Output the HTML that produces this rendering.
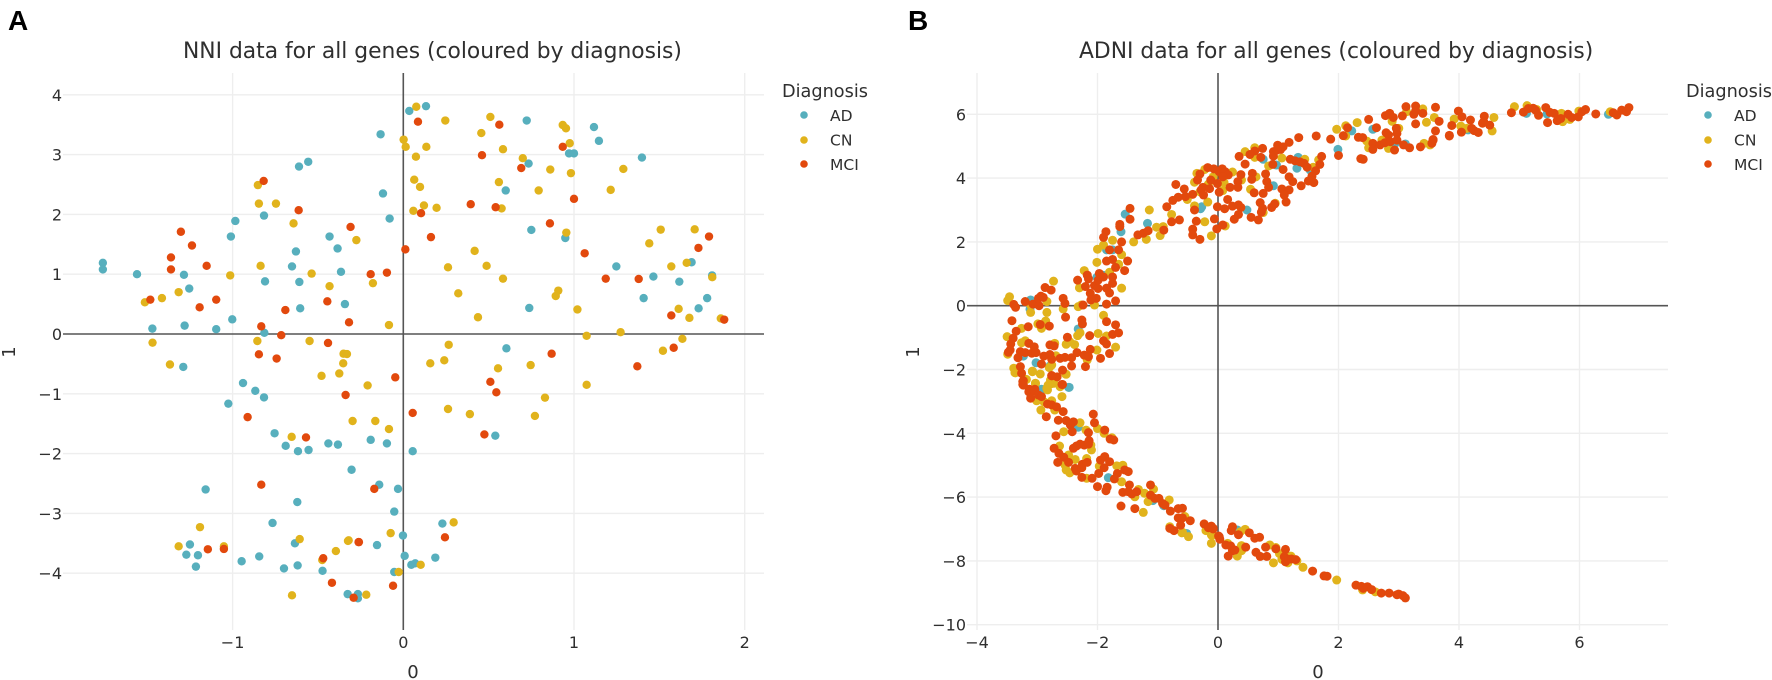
<!DOCTYPE html>
<html lang="en">
<head>
<meta charset="utf-8">
<title>NNI and ADNI data for all genes</title>
<style>
html,body{margin:0;padding:0;background:#fff;width:1772px;height:680px;overflow:hidden}
svg{display:block}
text{font-family:"DejaVu Sans","Liberation Sans",sans-serif;fill:#2f2f2f}
.letter{font-family:"Liberation Sans",sans-serif;font-weight:700;font-size:28px;fill:#000}
.title{font-size:21.8px}
.tick{font-size:16px}
.axis-title{font-size:18px}
.legend-title{font-size:17.7px}
.legend-label{font-size:15.5px}
</style>
</head>
<body>
<svg id="figure" xmlns="http://www.w3.org/2000/svg" width="1772" height="680" viewBox="0 0 1772 680">
  <text class="letter" x="8" y="30">A</text>
  <text class="letter" x="908" y="30">B</text>
  <g id="panel-a">
    <g id="a-grid"></g>
    <g id="a-marks"></g>
    <g id="a-ticks"></g>
    <text class="title" x="183" y="58">NNI data for all genes (coloured by diagnosis)</text>
    <text class="axis-title" x="413" y="678" text-anchor="middle">0</text>
    <text class="axis-title" transform="translate(15,352) rotate(-90)" text-anchor="middle">1</text>
    <g>
      <text class="legend-title" x="782" y="97">Diagnosis</text>
      <g><circle cx="804" cy="115" r="3.8" fill="#57afbd"/><text class="legend-label" x="830" y="121">AD</text></g>
      <g><circle cx="804" cy="140" r="3.8" fill="#e1b31c"/><text class="legend-label" x="830" y="145.500">CN</text></g>
      <g><circle cx="804" cy="164" r="3.8" fill="#e2490d"/><text class="legend-label" x="830" y="170">MCI</text></g>
    </g>
  </g>
  <g id="panel-b">
    <g id="b-grid"></g>
    <g id="b-marks"></g>
    <g id="b-ticks"></g>
    <text class="title" x="1079" y="58">ADNI data for all genes (coloured by diagnosis)</text>
    <text class="axis-title" x="1318" y="678" text-anchor="middle">0</text>
    <text class="axis-title" transform="translate(919,352) rotate(-90)" text-anchor="middle">1</text>
    <g>
      <text class="legend-title" x="1686" y="97">Diagnosis</text>
      <g><circle cx="1708" cy="115" r="3.8" fill="#57afbd"/><text class="legend-label" x="1734" y="121">AD</text></g>
      <g><circle cx="1708" cy="140" r="3.8" fill="#e1b31c"/><text class="legend-label" x="1734" y="145.500">CN</text></g>
      <g><circle cx="1708" cy="164" r="3.8" fill="#e2490d"/><text class="legend-label" x="1734" y="170">MCI</text></g>
    </g>
  </g>
</svg>
<script>
const nniXTicks = [-1, 0, 1, 2];
const nniYTicks = [4, 3, 2, 1, 0, -1, -2, -3, -4];
const adniXTicks = [-4, -2, 0, 2, 4, 6];
const adniYTicks = [6, 4, 2, 0, -2, -4, -6, -8, -10];

const nniAD = [[-1.76,1.19],[-1.76,1.08],[-1.56,1],[-1.285,.99],[-1.254,.76],[-.984,1.89],[-1.01,1.63],[-.816,1.98],[-.81,.88],[-.611,2.8],[-.557,2.88],[-.432,1.63],[-.385,1.43],[-.629,1.38],[-.652,1.13],[-.609,.87],[-.365,1.04],
[-1.47,.09],[-1.281,.14],[-1.096,.08],[-1.002,.245],[-.814,.02],[-.604,.43],[-.342,.5],[-1.289,-.55],[-.939,-.82],[-.867,-.95],[-.816,-1.06],[-1.025,-1.165],[-.754,-1.66],[-.689,-1.87],[-.617,-1.96],[-.555,-1.94],[-.439,-1.83],[-.383,-1.85],[-.303,-2.27],[-1.158,-2.6],[-.621,-2.81],[-.766,-3.16],
[.035,3.73],[.133,3.81],[-.133,3.34],[.723,3.57],[1.117,3.46],[1.146,3.23],[.971,3.02],[1,3.02],[1.398,2.95],[.734,2.85],[.6,2.4],[-.119,2.35],[-.08,1.93],[.75,1.74],[.949,1.605],[1.248,1.13],[1.465,.96],[1.617,.875],[1.689,1.2],[1.809,.98],[1.408,.6],[1.78,.6],
[.738,.435],[1.73,.43],[.604,-.24],[-.191,-1.77],[-.096,-1.83],[.055,-1.96],[.539,-1.7],[-.141,-2.52],[-.031,-2.59],[-.053,-2.97],[.229,-3.17],[-.002,-3.37],[-.154,-3.53],[.008,-3.71],[.047,-3.86],[.07,-3.835],[.1875,-3.74],[-.053,-3.98],
[-1.25,-3.52],[-1.271,-3.69],[-1.203,-3.7],[-1.215,-3.89],[-.947,-3.8],[-.844,-3.72],[-.699,-3.92],[-.619,-3.87],[-.635,-3.5],[-.473,-3.96],[-.326,-4.35],[-.266,-4.35],[-.266,-4.42]];

const nniCN = [[-.852,2.49],[-.846,2.18],[-.746,2.18],[-.643,1.85],[-.836,1.14],[-1.014,.98],[-.537,1.01],[-.432,.8],[-.275,1.57],[-1.316,.7],[-1.414,.6],[-1.514,.53],
[-1.469,-.145],[-1.367,-.51],[-.855,-.117],[-.549,-.117],[-.35,-.33],[-.33,-.335],[-.352,-.49],[-.375,-.66],[-.479,-.7],[-.654,-1.72],[-.297,-1.455],[-1.191,-3.23],
[.076,3.8],[.246,3.57],[.51,3.63],[.457,3.36],[.934,3.495],[.953,3.44],[.975,3.19],[.002,3.25],[.014,3.13],[.135,3.13],[.074,2.965],[.584,3.09],[.7,2.94],[.861,2.75],[.982,2.69],[1.289,2.76],[.064,2.58],[.098,2.46],[.56,2.54],[.793,2.4],[1.215,2.41],[.121,2.15],[.059,2.06],[.195,2.11],[.576,2.1],[.955,1.695],[1.508,1.745],[1.707,1.75],[1.441,1.516],[1.57,1.13],[1.66,1.19],[.418,1.39],[.262,1.115],[.488,1.14],[.584,.925],[1.81,.95],[-.178,.85],[.322,.68],[.908,.725],[.893,.635],
[-.084,.15],[.4375,.28],[1.02,.41],[1.613,.42],[1.676,.27],[1.074,-.03],[1.273,.03],[1.635,-.08],[1.521,-.28],[.266,-.18],[.24,-.44],[.158,-.49],[.555,-.574],[.746,-.52],[1.074,-.85],[-.209,-.86],[.83,-1.065],[.262,-1.254],[.39,-1.34],[.771,-1.37],[-.164,-1.455],[-.084,-1.59],[-.074,-3.33],[.295,-3.15],[.102,-3.86],[-.027,-3.98],[-.32,-3.45],[1.86,.26],
[-1.316,-3.55],[-1.051,-3.55],[-.652,-4.37],[-.217,-4.36],[-.395,-3.63],[-.475,-3.78],[-.324,-3.46],[-.607,-3.43]];

const nniMCI = [[-.818,2.56],[-.613,2.07],[-.309,1.79],[-1.303,1.71],[-1.238,1.48],[-1.361,1.28],[-1.361,1.08],[-1.152,1.14],
[-1.482,.574],[-1.193,.446],[-1.096,.574],[-.691,.4],[-.445,.546],[-.318,.195],[-.832,.128],[-.715,-.02],[-.441,-.15],[-.846,-.34],[-.742,-.41],[-.338,-1.02],[-.912,-1.39],[-.57,-1.73],[-.832,-2.52],
[.086,3.55],[.5625,3.5],[.934,3.13],[.461,2.99],[.691,2.775],[1,2.26],[.395,2.17],[.541,2.12],[.104,2.02],[.859,1.85],[.162,1.62],[.012,1.415],[1.0625,1.35],[1.729,1.44],[1.791,1.63],[-.191,1],[-.096,1.026],[1.186,.925],[1.379,.92],
[1.57,.31],[1.584,-.23],[1.371,-.54],[.869,-.33],[-.047,-.725],[.51,-.8],[.545,-.975],[.055,-1.32],[.475,-1.68],[-.17,-2.59],[.244,-3.4],[-.26,-3.48],[-.06,-4.21],[1.88,.24],
[-1.145,-3.6],[-1.051,-3.595],[-.469,-3.75],[-.418,-4.16],[-.291,-4.41],[-.262,-3.48]];

const adniAD = [[2.22,5.48],[2.57,5.53],[1.99,4.9],[3.11,5.07],[2.94,5.09],[1.33,4.65],[1.31,4.31],[.97,4.41],[.75,4.59],[1.53,4.25],[.92,3.76],[-.27,3.1],[-.29,3.04],[.48,3],[-1.54,2.87],[-1.17,2.58],[-1.61,2.32],
[-3.11,.18],[-3.12,-.11],[-2.32,-.73],[-3.23,-1.58],[-2.01,.89],[-3.02,-1.79],[-2.79,-1.89],[-2.48,-2.56],
[-2.93,-2.62],[-2.47,-2.56],[-2.32,-3.81],[-1.82,-5.39],[-1.08,-6.11],[-.9,-6.27],[-.52,-7.14],[.32,-7.03],
[5.12,6.03],[5.46,6.01],[4.15,5.51],[6.48,6],[-1.85,1.75],[-1.75,1.75],[-1.9,.95]];

const adniCN = [[1.97,5.53],[2.12,5.64],[2.31,5.74],[3.4,6.17],[3.13,6.08],[2.89,5.78],[3.46,5.75],[3.59,5.9],[3,5.56],[2.12,5.32],[2.47,5.16],[2.5,4.95],[2.72,5.19],[2.83,4.93],[3.42,5.09],[3.52,5.04],[.61,4.95],[.45,4.83],[.61,4.65],[1.06,4.63],[.84,4.38],[1.44,4.59],[1.67,4.57],[1.58,4.34],[-.22,4.27],[-.35,4.15],[.24,4.19],[-.39,3.87],[-.08,4.04],[.39,3.94],[.63,4.04],[.1,3.86],[.08,3.61],[-.16,3.81],[.54,3.65],[-.3,3.57],[-.51,3.33],[-.17,3.25],[-.39,3.13],[-1.14,3],[-.77,2.86],[.75,2.92],[.95,3.21],[-.22,2.63],[.12,2.5],[-.11,2.19],[-1.02,2.46],[-.91,2.48],[-.96,2.2],[-1.19,2.08],
[-3.46,.28],[-3.49,.16],[-3.11,.02],[-3.11,-.21],[-2.84,-.21],[-2.84,.13],[-2.73,.77],[-2.57,-.1],[-2.32,-.03],[-2.27,.02],[-2.05,.02],[-2.3,.56],[-2.22,1.1],[-2.01,1.36],[-2,1.77],[-2.86,-.48],[-2.99,-.57],[-2.93,-.71],[-3.26,-.71],[-3.5,-.97],[-3.49,-1.52],[-3.26,-1.16],[-3.2,-1.1],[-2.71,-1.18],[-2.29,-.85],[-2.33,-.94],[-1.99,-.87],[-2.52,-1.21],[-2.46,-1.13],[-2.38,-1.22],[-2.01,-1.39],[-2.17,-1.7],[-2.69,-1.57],[-3.39,-1.96],[-3.36,-2.1],[-3.08,-2.05],[-2.95,-2.14],[-2.8,-1.94],[-2.76,-1.86],[-2.52,-2.15],[-3.18,-2.31],[-3.03,-2.43],[-2.79,-2.46],[-2.72,-2.43],[-2.84,-2.59],[-2.62,-2.54],
[-3.37,-2.1],[-3.08,-2.07],[-2.78,-2.33],[-3.03,-2.44],[-2.76,-2.44],[-2.53,-2.14],[-2.82,-2.49],[-2.83,-2.64],[-2.59,-2.85],[-3.01,-2.98],[-2.89,-3.01],[-2.76,-2.98],[-2.94,-3.27],[-2.71,-3.27],[-2.29,-3.67],[-2.56,-3.95],[-2.19,-3.9],[-2,-3.85],[-1.89,-4],[-1.76,-4.14],[-2.63,-4.4],[-2.11,-4.37],[-2.1,-4.52],[-2.48,-4.68],[-2.37,-4.82],[-2.18,-4.79],[-2.54,-4.99],[-2.52,-5.15],[-2.46,-5.24],[-2.18,-5.41],[-1.97,-5.03],[-1.68,-5.02],[-1.58,-5],[-1.6,-5.52],[-1.07,-5.75],[-1.22,-5.88],[-1.32,-5.76],[-1.38,-5.99],[-1.16,-6.14],[-1.24,-6.48],[-.81,-6.09],[-.55,-6.61],[-.8,-6.93],[-.6,-7.12],[-.49,-7.24],[-.11,-7.19],
[-.11,-7.45],[-.2,-7.05],[-.09,-7.2],[-.58,-6.64],[-.59,-7.1],[.16,-7.45],[.32,-7.85],[.39,-7.52],[.39,-7.68],[.37,-7.09],[.45,-7.01],[.86,-7.5],[.92,-8.06],[.96,-7.58],[1.02,-7.77],[1.21,-7.85],[1.06,-7.95],[1.16,-8.06],[1.31,-8],[1.41,-8.2],[1.97,-8.6],[2.4,-8.91],[2.61,-8.97],
[3.92,5.85],[4.03,5.63],[4.13,5.56],[4.58,5.9],[4.55,5.48],[4.92,6.24],[5.13,6.27],[5.29,6.15],[5.7,6.03],[5.72,5.77],[5.84,5.84],[5.99,6.1],[6.51,6.08],
[-1.8,1.05],[-1.65,1.3],[-1.9,1.9],[-1.75,2.05],[-1.6,1.6],[-1.4,2],[-1.85,-.95],[-1.7,-1.3],[-1.9,-.3],[-1.6,.55]];

const adniMCI = [[3.12,6.24],[3.28,6.26],[3.61,6.22],[2.78,5.96],[2.85,6.03],[2.91,5.9],[3.06,5.95],[3.25,6],[3.28,6.11],[3.4,6.03],[3.67,5.78],[2.5,5.84],[2.63,5.58],[2.15,5.58],[2.96,5.56],[3.28,5.7],[3.61,5.48],[3.84,5.32],[2.79,5.42],[2.83,5.35],[2.97,5.4],[2.08,5.33],[2.33,5.28],[2.4,5.27],[1.63,5.32],[1.34,5.27],[1.87,5.22],[1.18,5.12],[2.57,5.09],[2.69,5.04],[2.77,5.11],[2.86,5.14],[2.97,5.19],[2.57,4.9],[2.93,4.88],[3.08,5.04],[3.18,4.95],[3.36,4.98],[3.57,5.19],[3.55,5.09],[2,4.71],[2.37,4.61],[2.41,4.59],[.99,5.03],[1.08,4.98],[1.04,4.9],[.74,4.93],[.61,4.85],[.53,4.74],[.35,4.68],[.71,4.65],[.92,4.83],[.92,4.69],[.98,4.88],[1.72,4.68],[1.2,4.59],[1.28,4.54],[1.36,4.51],[1.43,4.46],[1.48,4.34],[1.69,4.43],[1.62,4.23],[1.56,4.06],[.45,4.44],[.91,4.43],[1.08,4.27],[-.17,4.33],[-.07,4.29],[.07,4.29],[.02,4.2],[.12,4.2],[.17,4.1],[-.3,4.13],[-.34,3.94],[-.12,3.94],[-.01,3.83],[.08,4.04],[.38,4.11],[.57,4.15],[.56,3.96],[.79,4.13],[.81,3.89],[.84,3.71],[.33,3.89],[.33,3.71],[.2,3.71],[-.7,3.8],[-.56,3.66],[-.25,3.71],[-.28,3.63],[-.14,3.67],[-.24,3.47],[-.42,3.49],[-.54,3.42],[-.66,3.4],[-.75,3.3],[.02,3.56],[.6,3.54],[.75,3.52],[1.06,3.66],[1.18,3.63],[1.1,3.47],[1.18,4.04],[1.24,3.89],[1.38,3.76],[1.59,3.86],[1.5,3.91],[1.13,3.25],[.16,3.33],[-.85,3.1],[-1.46,3.05],[-1.46,2.71],[-1.63,2.55],[-1.63,2.48],[-1.86,2.32],[-1.9,2.14],[-1.33,2.22],[-1.24,2.27],[-1.16,2.35],[-.9,2.37],[-.77,2.63],[-.64,2.69],[-.39,3],[-.01,3.1],[.11,3.04],[.24,3.12],[.34,3.16],[.38,3.08],[.7,3.23],[.74,3.05],[.72,2.93],[.89,3.08],[.94,3.19],[.34,2.86],[.27,2.71],[.55,2.77],[.67,2.69],[-.36,2.65],[-.06,2.72],[-.02,2.41],[.08,2.53],[-.42,2.4],[-.42,2.22],[-.3,2.08],
[-3.39,.04],[-3.36,-.05],[-3.2,.13],[-3.07,.05],[-2.97,0],[-2.98,.23],[-2.94,.3],[-2.9,.26],[-2.87,.57],[-2.77,.49],[-2.57,.23],[-2.54,.07],[-2.53,-.36],[-3.42,-.47],[-3.15,-.66],[-2.95,-.59],[-2.8,-.64],[-3.35,-.8],[-3.4,-1.02],[-3.44,-1.2],[-3.45,-1.39],[-3.48,-1.46],[-3.14,-1.18],[-3.05,-1.29],[-3.28,-1.44],[-3.2,-1.47],[-3.09,-1.49],[-3.02,-1.47],[-3.32,-1.63],[-2.79,-1.23],[-2.72,-1.26],[-2.89,-1.58],[-2.79,-1.53],[-2.76,-1.68],[-2.62,-1.65],[-2.54,-1.62],[-2.43,-1.63],[-2.34,-1.47],[-2.5,-.99],[-2.13,-.94],[-2.12,-1.37],[-2.22,-1.55],[-2.15,-1.6],[-2.2,-1.91],[-2.43,-1.89],[-2.58,-2.02],[-2.93,-1.83],[-3.28,-1.91],[-3.26,-2.12],[-2.76,-2.19],[-2.67,-2.23],[-3.23,-2.35],[-3.24,-2.47],[-2.58,-2.47],[-3.13,-2.62],[-3.04,-2.62],[-2.26,-.45],[-2.25,-.57],[-2.24,.02],[-2.33,.8],[-2.17,.96],[-2.15,.84],[-2.2,.6],[-2.05,.63],[-2.12,.39],[-2.02,.23],[-2.11,.18],[-1.97,1.01],[-1.99,.8],[-1.99,.54],
[-3.24,-2.38],[-3.23,-2.49],[-2.76,-2.2],[-2.59,-2.47],[-3.14,-2.7],[-3.05,-2.67],[-3.11,-2.9],[-2.98,-2.8],[-2.93,-2.85],[-2.83,-3.08],[-2.76,-3.11],[-2.68,-3.17],[-2.57,-3.32],[-2.85,-3.48],[-2.65,-3.59],[-2.52,-3.6],[-2.4,-3.64],[-2.45,-3.74],[-2.42,-3.95],[-2.69,-4.08],[-2.07,-3.4],[-2.05,-3.67],[-2.15,-3.98],[-1.88,-3.9],[-1.79,-4.18],[-1.73,-4.21],[-2.72,-4.47],[-2.64,-4.63],[-2.56,-4.75],[-2.66,-4.91],[-2.48,-4.91],[-2.4,-4.47],[-2.35,-4.4],[-2.29,-4.34],[-2.22,-4.37],[-2.14,-4.23],[-2.15,-4.34],[-2.37,-5.1],[-2.35,-5.18],[-2.26,-5.08],[-2.25,-4.97],[-2.17,-4.91],[-2.26,-5.38],[-2.09,-5.41],[-1.98,-5.26],[-1.89,-5.08],[-1.95,-4.84],[-1.88,-4.73],[-1.8,-4.89],[-2,-5.67],[-1.84,-5.69],[-1.86,-5.8],[-1.67,-5.26],[-1.72,-5.43],[-1.55,-5.15],[-1.49,-5.2],[-1.47,-5.62],[-1.58,-5.85],[-1.49,-5.83],[-1.43,-5.9],[-1.35,-5.83],[-1.61,-6.28],[-1.38,-6.36],[-1.12,-5.62],[-1.12,-5.94],[-1.05,-6.04],[-.98,-6.04],[-.92,-6.2],[-.88,-6.25],[-.79,-6.44],[-.66,-6.36],[-.59,-6.35],[-.66,-6.65],[-.59,-6.65],[-.62,-6.88],[-.46,-6.74],[-.8,-6.98],[-.73,-7.05],[-.23,-6.84],[-.13,-6.93],[-.08,-6.98],[.02,-7.24],
[-.11,-6.91],[-.08,-7],[-.16,-6.96],[.01,-7.22],[.03,-7.32],[.24,-6.93],[.22,-7.05],[.34,-7.18],[.52,-7.12],[.61,-7.29],[.69,-7.26],[.13,-7.5],[.21,-7.53],[.24,-7.68],[.17,-7.85],[.28,-7.66],[.46,-7.57],[.63,-7.73],[.7,-7.86],[.81,-7.86],[.79,-7.57],[.96,-7.62],[1.12,-7.64],[1.1,-7.87],[1.12,-8.03],[1.17,-7.95],[1.22,-7.94],[1.29,-7.96],[1.57,-8.32],[1.76,-8.47],[1.81,-8.48],[2.29,-8.76],[2.38,-8.8],[2.41,-8.86],[2.48,-8.81],[2.55,-8.9],[2.71,-9.01],[2.84,-9.01],[2.97,-9.06],[3,-9.04],[3.07,-9.09],[3.11,-9.16],
[3.99,6.1],[4.05,5.92],[4.19,5.82],[4.42,5.94],[4.41,5.77],[4.51,5.66],[3.88,5.65],[3.84,5.34],[3.57,5.21],[4.04,5.44],[4.21,5.56],[4.25,5.49],[4.32,5.43],[4.39,5.72],[4.87,6.05],[5.07,6.07],[5.15,6.18],[5.23,6.19],[5.27,6.13],[5.32,5.97],[5.44,6.21],[5.51,6.06],[5.58,6.03],[5.47,5.74],[5.63,5.8],[5.69,5.87],[5.81,6],[5.87,5.9],[5.98,5.92],[6.04,6.08],[6.1,6.15],[6.27,6.01],[6.56,6.05],[6.62,5.98],[6.7,6.13],[6.78,6.08],[6.82,6.21],
[-1.9,.9],[-1.85,.55],[-1.8,.4],[-1.75,.9],[-1.7,1.2],[-1.85,1.4],[-1.75,1.45],[-1.65,1.75],[-1.8,1.75],[-1.6,2],[-1.55,1.1],[-1.75,.7],[-1.7,.15],[-1.85,.05],[-1.85,-.5],[-1.75,-.9],[-1.65,-.85],[-1.7,-.6],[-1.9,-1.1],[-1.8,-1.5],[-1.95,-1.65],[-1.85,-1.2],[-1.5,1.4]];

const NS = 'http://www.w3.org/2000/svg';
const seriesColors = { AD: '#57afbd', CN: '#e1b31c', MCI: '#e2490d' };

const nniX = v => 403.3 + v * 170.7;
const nniY = v => 334 - v * 59.8;
const adniX = v => 1218 + v * 60.25;
const adniY = v => 305.7 - v * 31.9;

function svgEl(tag, attrs) {
  const el = document.createElementNS(NS, tag);
  for (const k in attrs) el.setAttribute(k, attrs[k]);
  return el;
}
function fmt(v) { return String(v).replace('-', '\u2212'); }

function drawAxes(gridId, tickId, xTicks, yTicks, xFn, yFn, box) {
  const grid = document.getElementById(gridId);
  const ticks = document.getElementById(tickId);
  const zero = [];
  xTicks.forEach(t => {
    const x = xFn(t);
    const line = svgEl('line', { x1: x, x2: x, y1: box.top, y2: box.bottom, stroke: t === 0 ? '#555' : '#eeeeee', 'stroke-width': t === 0 ? 1.6 : 1.4 });
    
    
    if (t === 0) { zero.push(line); } else { grid.appendChild(line); }
    const lab = svgEl('text', { x: x, y: 648, 'text-anchor': 'middle', class: 'tick' });
    
    
    lab.textContent = fmt(t);
    ticks.appendChild(lab);
  });
  yTicks.forEach(t => {
    const y = yFn(t);
    const line = svgEl('line', { x1: box.left, x2: box.right, y1: y, y2: y, stroke: t === 0 ? '#555' : '#eeeeee', 'stroke-width': t === 0 ? 1.6 : 1.4 });
    
    
    if (t === 0) { zero.push(line); } else { grid.appendChild(line); }
    const lab = svgEl('text', { x: box.left - 1, y: y + 6, 'text-anchor': 'end', class: 'tick' });
    
    
    lab.textContent = fmt(t);
    ticks.appendChild(lab);
  });
  zero.forEach(l => grid.appendChild(l));
}

function drawPoints(groupId, points, color, xFn, yFn, r) {
  const group = document.getElementById(groupId);
  points.forEach(p => {
    const c = svgEl('circle', { cx: xFn(p[0]), cy: yFn(p[1]), r: r, fill: color });
    
    
    group.appendChild(c);
  });
}

drawAxes('a-grid', 'a-ticks', nniXTicks, nniYTicks, nniX, nniY, { left: 63, right: 764, top: 73, bottom: 630 });
drawAxes('b-grid', 'b-ticks', adniXTicks, adniYTicks, adniX, adniY, { left: 967, right: 1668, top: 73, bottom: 630 });

drawPoints('a-marks', nniAD, seriesColors.AD, nniX, nniY, 4.2);
drawPoints('a-marks', nniCN, seriesColors.CN, nniX, nniY, 4.2);
drawPoints('a-marks', nniMCI, seriesColors.MCI, nniX, nniY, 4.2);
drawPoints('b-marks', adniAD, seriesColors.AD, adniX, adniY, 4.5);
drawPoints('b-marks', adniCN, seriesColors.CN, adniX, adniY, 4.5);
drawPoints('b-marks', adniMCI, seriesColors.MCI, adniX, adniY, 4.5);
</script>
</body>
</html>
